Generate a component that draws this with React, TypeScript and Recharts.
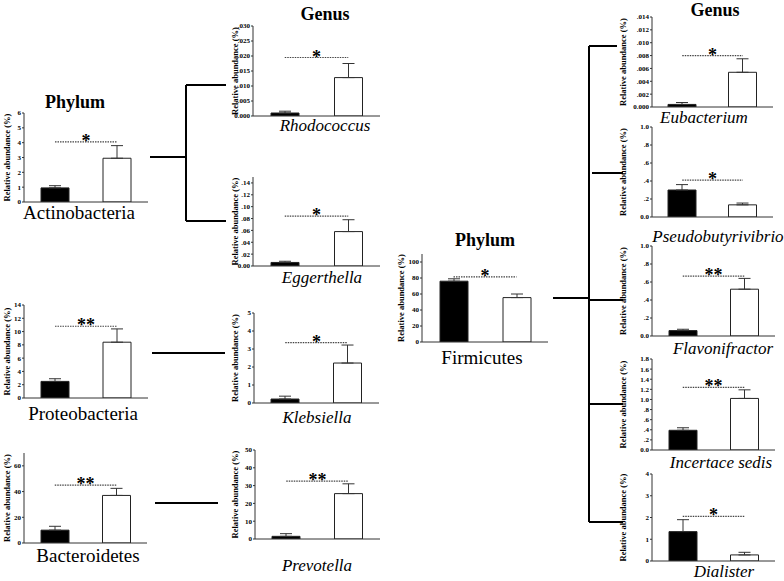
import React from 'react';
import { BarChart, Bar, XAxis, YAxis, ErrorBar, ReferenceLine, Cell } from 'recharts';

// ---------- DATA ----------
const groups = ['Group A', 'Group B'];
const taxa = [
  'Actinobacteria', 'Proteobacteria', 'Bacteroidetes',
  'Rhodococcus', 'Eggerthella', 'Klebsiella', 'Prevotella',
  'Firmicutes',
  'Eubacterium', 'Pseudobutyrivibrio', 'Flavonifractor', 'Incertace sedis', 'Dialister',
];
const means = [
  [0.95, 2.95], [2.5, 8.4], [10, 37],
  [0.001, 0.0128], [0.006, 0.058], [0.22, 2.22], [1.5, 25.5],
  [76, 55.5],
  [0.0004, 0.0054], [0.3, 0.135], [0.06, 0.52], [0.39, 1.02], [1.35, 0.28],
];
const errors = [
  [0.15, 0.85], [0.4, 2.0], [3, 5.5],
  [0.0006, 0.0047], [0.002, 0.02], [0.16, 1.0], [1.5, 5.5],
  [3, 4.5],
  [0.0003, 0.0021], [0.06, 0.02], [0.015, 0.12], [0.05, 0.17], [0.55, 0.12],
];
const sigLevel = [4.05, 10.8, 45, 0.0195, 0.084, 3.35, 32.5, 81.5, 0.008, 0.41, 0.665, 1.24, 2.05];
const sigMark = ['*', '**', '**', '*', '*', '*', '**', '*', '*', '*', '**', '**', '*'];
const yMax = [6, 14, 70, 0.03, 0.15, 5, 50, 110, 0.014, 1, 1, 1.8, 4];
const yTicks = [
  [0, 1, 2, 3, 4, 5, 6],
  [0, 2, 4, 6, 8, 10, 12, 14],
  [0, 20, 40, 60],
  [0, 0.005, 0.01, 0.015, 0.02, 0.025, 0.03],
  [0, 0.02, 0.04, 0.06, 0.08, 0.1, 0.12, 0.14],
  [0, 1, 2, 3, 4, 5],
  [0, 10, 20, 30, 40, 50],
  [0, 20, 40, 60, 80, 100],
  [0, 0.002, 0.004, 0.006, 0.008, 0.01, 0.012, 0.014],
  [0, 0.2, 0.4, 0.6, 0.8, 1],
  [0, 0.2, 0.4, 0.6, 0.8, 1],
  [0, 0.2, 0.4, 0.6, 0.8, 1, 1.2, 1.4, 1.6, 1.8],
  [0, 1, 2, 3, 4],
];
const yDecimals = [0, 0, 0, 3, 2, 0, 0, 0, 3, 1, 1, 1, 0];
const yAxisTitle = 'Relative abundance (%)';
const headings = ['Phylum', 'Genus', 'Phylum', 'Genus'];

// ---------- LAYOUT / STYLE ----------
const SERIF = "'Liberation Serif', 'DejaVu Serif', 'Noto Serif', Tinos, FreeSerif, 'Times New Roman', Times, serif";
const BAR_FILLS = ['#000000', '#ffffff'];
const boxes = [
  [24, 113, 148, 202], [24, 305, 148, 398], [24, 453, 147, 543],
  [253, 26, 380, 116], [253, 177, 380, 266], [254, 313, 379, 403], [255, 450, 380, 539],
  [422, 254, 548, 342],
  [652, 17, 773, 107], [652, 127, 773, 217], [652, 246, 775, 336], [652, 359, 775, 450], [652, 474, 775, 561],
];
const labelPos = [
  [79, 212], [83, 413], [88, 555],
  [325, 125], [322, 277], [317, 417], [317, 565],
  [482, 357],
  [704, 117], [718, 236], [723, 348], [721, 462], [724, 571],
];
const yLabelX = [7, 7, 7, 235, 235, 235, 235, 401, 623, 623, 623, 623, 623];
const headingPos = [[75, 102], [325, 14], [485, 240], [715, 10]];
const connectors = [
  [150, 157, 186, 157], [186, 85, 186, 221], [186, 85, 226, 85], [186, 221, 226, 221],
  [152, 353, 225, 353],
  [155, 503, 218, 503],
  [553, 298, 589, 298], [589, 46, 589, 522],
  [589, 46, 617, 46], [592, 173, 623, 173], [589, 300, 623, 300], [589, 404, 623, 404], [589, 522, 623, 522],
];

const fmt = (v: number, d: number) => {
  if (d === 0) return String(v);
  const s = v.toFixed(d);
  if (v === 0) return s;
  return s.startsWith('0.') ? s.slice(1) : s;
};

const AX = 40, TOP = 8, RIGHT = 3, BOT = 6;

function Panel({ i }: { i: number }) {
  const [x0, y0, x1, y1] = boxes[i];
  const w = x1 - x0, h = y1 - y0;
  const data = groups.map((g, k) => ({ group: g, value: means[i][k], err: [0, errors[i][k]] }));
  return (
    <div style={{ position: 'absolute', left: x0 - AX, top: y0 - TOP, fontFamily: SERIF }}>
      <BarChart
        width={AX + w + RIGHT}
        height={TOP + h + BOT}
        data={data}
        margin={{ top: TOP, right: RIGHT, left: 0, bottom: 0 }}
        barSize={28}
        style={{ fontFamily: SERIF }}
      >
        <XAxis dataKey="group" height={BOT} tick={false} tickSize={3}
          axisLine={{ stroke: '#333' }} tickLine={{ stroke: '#333' }} />
        <XAxis xAxisId="top" orientation="top" dataKey="group" height={0} tick={false}
          tickLine={false} axisLine={{ stroke: '#777' }} />
        <YAxis width={AX} domain={[0, yMax[i]]} ticks={yTicks[i]} interval={0}
          tickFormatter={(v: number) => fmt(v, yDecimals[i])}
          tickSize={2} tickMargin={1}
          tick={{ fontSize: 7, fontWeight: 'bold', fill: '#000', style: { fontFamily: SERIF } }}
          axisLine={{ stroke: '#333' }} tickLine={{ stroke: '#333' }} allowDataOverflow />
        <YAxis yAxisId="right" orientation="right" width={0} domain={[0, 1]} tick={false}
          tickLine={false} axisLine={{ stroke: '#777' }} />
        <Bar dataKey="value" isAnimationActive={false} stroke="#222" strokeWidth={1}>
          {data.map((d, k) => <Cell key={k} fill={BAR_FILLS[k]} />)}
          <ErrorBar dataKey="err" width={6} stroke="#333" strokeWidth={1} isAnimationActive={false} />
        </Bar>
        <ReferenceLine
          segment={[{ x: groups[0], y: sigLevel[i] }, { x: groups[1], y: sigLevel[i] }]}
          stroke="#444" strokeDasharray="1.5 1" strokeWidth={1.2} ifOverflow="visible"
          label={{ value: sigMark[i], position: 'top', offset: -5, fill: '#000', fontSize: 18, fontWeight: 'bold', style: { fontFamily: SERIF } }}
        />
      </BarChart>
    </div>
  );
}

export default function App() {
  const txt = { fontFamily: SERIF } as React.CSSProperties;
  return (
    <div style={{ position: 'absolute', left: 0, top: 0, width: 784, height: 581, background: '#fff', overflow: 'hidden', fontFamily: SERIF }}>
      {taxa.map((t, i) => <Panel key={t} i={i} />)}
      <svg width={784} height={581} style={{ position: 'absolute', left: 0, top: 0, pointerEvents: 'none' }}>
        {connectors.map((c, k) => (
          <line key={k} x1={c[0]} y1={c[1]} x2={c[2]} y2={c[3]} stroke="#000" strokeWidth={2} />
        ))}
        {headings.map((hd, k) => (
          <text key={k} x={headingPos[k][0]} y={headingPos[k][1]} textAnchor="middle" dominantBaseline="central"
            style={txt} fontWeight="bold" fontSize={18} fill="#000">{hd}</text>
        ))}
        {taxa.map((t, i) => {
          const italic = i >= 3 && i !== 7;
          return (
            <text key={t} x={labelPos[i][0]} y={labelPos[i][1]} textAnchor="middle" dominantBaseline="central"
              style={txt} fontStyle={italic ? 'italic' : 'normal'} fontSize={italic ? 17 : 19} fill="#000">{t}</text>
          );
        })}
        {taxa.map((t, i) => {
          const cy = (boxes[i][1] + boxes[i][3]) / 2;
          return (
            <text key={'y' + t} x={yLabelX[i]} y={cy} textAnchor="middle" dominantBaseline="central"
              transform={`rotate(-90 ${yLabelX[i]} ${cy})`}
              style={txt} fontWeight="bold" fontSize={8.5} fill="#000">{yAxisTitle}</text>
          );
        })}
      </svg>
    </div>
  );
}
